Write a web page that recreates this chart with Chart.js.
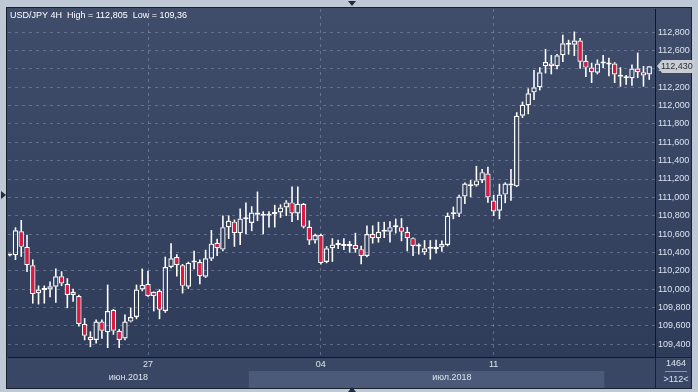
<!DOCTYPE html>
<html>
<head>
<meta charset="utf-8">
<title>USD/JPY 4H</title>
<script src="https://cdn.jsdelivr.net/npm/chart.js@4.4.1/dist/chart.umd.min.js"></script>
<style>
  html, body { margin: 0; padding: 0; background: #bfc9d6; }
  #wrap { position: relative; width: 698px; height: 392px; }
</style>
</head>
<body>
<div id="wrap"><canvas id="chart" width="698" height="392"></canvas></div>
<script>
// 4H candles, oldest first (112 bars on screen)
const opens = [110.365,110.37,110.63,110.46,110.26,109.955,109.99,109.995,110.025,110.14,
  110.055,109.935,109.925,109.62,109.48,109.445,109.645,109.53,109.775,109.545,
  109.46,109.645,109.695,109.995,110.055,109.97,109.98,109.76,110.24,110.35,
  110.26,110.025,110.29,110.295,110.135,110.33,110.505,110.43,110.675,110.735,
  110.61,110.762,110.72,110.835,110.8,110.8,110.815,110.835,110.89,110.945,
  110.825,110.93,110.68,110.53,110.59,110.295,110.445,110.48,110.47,110.47,
  110.48,110.435,110.36,110.6,110.555,110.625,110.625,110.675,110.675,110.625,
  110.555,110.465,110.4,110.44,110.435,110.455,110.48,110.815,110.82,111.01,
  111.14,111.13,111.185,111.26,110.965,110.855,111.03,111.15,111.12,111.89,
  112.005,112.145,112.2,112.43,112.46,112.43,112.55,112.665,112.665,112.71,
  112.49,112.415,112.36,112.46,112.45,112.46,112.33,112.3,112.3,112.405,
  112.365,112.34];
const highs = [110.375,110.67,110.75,110.59,110.32,110.035,110.035,110.08,110.22,110.19,
  110.115,110.0,109.935,109.68,109.535,109.665,109.665,110.045,109.78,109.56,
  109.72,109.795,110.045,110.22,110.195,109.97,109.995,110.35,110.495,110.375,
  110.27,110.295,110.415,110.32,110.425,110.64,110.545,110.8,110.8,110.755,
  110.875,110.94,110.9,111.06,110.845,110.845,110.915,110.92,110.965,111.115,
  111.115,110.935,110.745,110.6,110.6,110.465,110.55,110.535,110.55,110.52,
  110.61,110.47,110.69,110.69,110.73,110.73,110.735,110.765,110.77,110.675,
  110.56,110.495,110.53,110.53,110.535,110.525,110.83,110.895,111.025,111.16,
  111.185,111.34,111.305,111.33,111.025,111.145,111.16,111.305,111.925,112.04,
  112.185,112.385,112.415,112.615,112.55,112.56,112.77,112.715,112.805,112.735,
  112.55,112.465,112.5,112.55,112.52,112.47,112.415,112.33,112.445,112.575,
  112.43,112.43];
const lows = [110.36,110.32,110.355,110.19,109.845,109.835,109.845,109.915,109.855,110.035,
  109.795,109.865,109.595,109.445,109.37,109.41,109.46,109.36,109.505,109.36,
  109.445,109.64,109.675,109.98,109.92,109.76,109.675,109.745,110.23,110.14,
  109.955,110.005,110.22,110.055,110.125,110.31,110.365,110.415,110.55,110.465,
  110.485,110.6,110.635,110.745,110.6,110.675,110.675,110.78,110.8,110.735,
  110.755,110.665,110.485,110.5,110.27,110.285,110.3,110.44,110.43,110.4,
  110.4,110.275,110.35,110.5,110.51,110.56,110.51,110.61,110.525,110.415,
  110.365,110.38,110.375,110.325,110.39,110.41,110.47,110.765,110.79,110.93,
  111.005,111.12,111.16,110.945,110.8,110.765,110.94,110.965,111.115,111.87,
  111.91,112.065,112.17,112.355,112.345,112.4,112.48,112.56,112.545,112.405,
  112.315,112.25,112.345,112.415,112.325,112.25,112.21,112.23,112.22,112.305,
  112.21,112.285];
const closes = [110.37,110.64,110.46,110.26,109.945,109.995,110.0,110.03,110.14,110.06,
  109.935,109.97,109.62,109.49,109.445,109.645,109.545,109.76,109.545,109.445,
  109.645,109.695,109.995,110.045,109.925,109.925,109.775,110.24,110.335,110.26,
  110.035,110.285,110.3,110.14,110.335,110.495,110.445,110.675,110.745,110.61,
  110.77,110.77,110.835,110.81,110.81,110.81,110.84,110.89,110.945,110.825,
  110.93,110.68,110.53,110.59,110.285,110.445,110.485,110.485,110.475,110.48,
  110.435,110.36,110.6,110.555,110.625,110.645,110.675,110.68,110.625,110.555,
  110.47,110.47,110.445,110.445,110.46,110.49,110.8,110.82,111.01,111.15,
  111.12,111.185,111.275,111.0,110.845,111.03,111.15,111.13,111.89,112.01,
  112.135,112.2,112.365,112.475,112.43,112.55,112.68,112.67,112.71,112.48,
  112.415,112.365,112.46,112.465,112.455,112.34,112.315,112.305,112.405,112.365,
  112.33,112.43];

const priceTicks = [109.4,109.6,109.8,110.0,110.2,110.4,110.6,110.8,111.0,111.2,
  111.4,111.6,111.8,112.0,112.2,112.4,112.6,112.8];
const dayTicks = [24, 54, 84];          // bar index where the day starts
const dayLabels = ['27', '04', '11'];
const monthLabels = ['июн.2018', 'июл.2018'];
const monthBounds = [-0.3, 41.5, 112];  // in bar index units
const viewBand = [41.5, 103.2];
const lastPrice = 112.43;
const titleText = 'USD/JPY 4H  High = 112,805  Low = 109,36';
const barsTotal = '1464';
const barsShown = '>112<';

const RED = '#e3173e';
const WHITE = '#ffffff';
const GRID = 'rgba(150,165,195,0.45)';
const TEXT = '#dbe2ef';
const FONT = '"Liberation Sans", Arial, sans-serif';

const idx = opens.map((_, i) => i);
const upperWick = idx.map(i => ({ x: i, y: [Math.max(opens[i], closes[i]), highs[i]] }));
const lowerWick = idx.map(i => ({ x: i, y: [lows[i], Math.min(opens[i], closes[i])] }));
const bodies = idx.map(i => ({ x: i, y: [opens[i], closes[i]] }));
const bodyFill = idx.map(i => closes[i] < opens[i] ? RED : 'rgba(0,0,0,0)');

const fmt = v => v.toFixed(3).replace('.', ',');

const frame = {
  id: 'frame',
  beforeDraw(chart) {
    const ctx = chart.ctx;
    const ca = chart.chartArea;
    const L = ca.left - 1, T = ca.top - 1, R = ca.right + 36, B = ca.bottom + 31;
    ctx.save();
    ctx.fillStyle = '#bfc9d6';
    ctx.fillRect(0, 0, chart.width, chart.height);

    const g = ctx.createLinearGradient(0, ca.top, 0, ca.bottom);
    g.addColorStop(0, '#3f4d6b');
    g.addColorStop(1, '#2f3c59');
    ctx.fillStyle = g;
    ctx.fillRect(L, T, R - L, ca.bottom - T);

    // x label strip
    ctx.fillStyle = '#3a4764';
    ctx.fillRect(L, ca.bottom, R - L, B - ca.bottom);
    const x = chart.scales.x;
    ctx.fillStyle = '#4b5a78';
    const b0 = x.getPixelForValue(viewBand[0]), b1 = x.getPixelForValue(viewBand[1]);
    ctx.fillRect(b0, ca.bottom + 14, b1 - b0, B - ca.bottom - 14);

    ctx.strokeStyle = '#1a202c';
    ctx.lineWidth = 1;
    ctx.strokeRect(L - 0.5, T - 0.5, R - L + 1, B - T + 1);
    ctx.beginPath();
    ctx.moveTo(ca.right + 0.5, ca.bottom);
    ctx.lineTo(ca.right + 0.5, B);
    ctx.moveTo(ca.right, ca.bottom + 0.5);
    ctx.lineTo(R, ca.bottom + 0.5);
    ctx.stroke();
    ctx.restore();
  },
  afterDraw(chart) {
    const ctx = chart.ctx;
    const ca = chart.chartArea;
    const x = chart.scales.x, y = chart.scales.y;
    ctx.save();

    ctx.font = '9px ' + FONT;
    ctx.fillStyle = WHITE;
    ctx.textAlign = 'left';
    ctx.textBaseline = 'alphabetic';
    ctx.fillText(titleText, ca.left + 2, ca.top + 9);

    // day and month labels
    ctx.fillStyle = TEXT;
    ctx.textAlign = 'center';
    ctx.textBaseline = 'middle';
    dayTicks.forEach((d, i) => ctx.fillText(dayLabels[i], x.getPixelForValue(d), ca.bottom + 8));
    monthLabels.forEach((m, i) => {
      const mx = (x.getPixelForValue(monthBounds[i]) + x.getPixelForValue(monthBounds[i + 1])) / 2;
      ctx.fillText(m, mx, ca.bottom + 21);
    });

    // bar count box
    const cx = ca.right + 21;
    ctx.fillText(barsTotal, cx, ca.bottom + 7);
    ctx.fillText(barsShown, cx, ca.bottom + 23);
    ctx.strokeStyle = '#8a97ad';
    ctx.beginPath();
    ctx.moveTo(cx - 11, ca.bottom + 14.5);
    ctx.lineTo(cx + 11, ca.bottom + 14.5);
    ctx.stroke();

    // last price tag
    const py = Math.round(y.getPixelForValue(lastPrice));
    const tx = ca.right + 2;
    ctx.fillStyle = '#c9cdd3';
    ctx.beginPath();
    ctx.moveTo(tx, py);
    ctx.lineTo(tx + 5, py - 6);
    ctx.lineTo(tx + 38, py - 6);
    ctx.lineTo(tx + 38, py + 7);
    ctx.lineTo(tx + 5, py + 7);
    ctx.closePath();
    ctx.fill();
    ctx.fillStyle = '#2a2f38';
    ctx.textAlign = 'left';
    ctx.fillText(fmt(lastPrice), tx + 4, py + 0.5);

    // small scroll arrows on the frame
    ctx.fillStyle = '#1f2b42';
    const mid = chart.width / 2 + 3;
    ctx.beginPath();
    ctx.moveTo(mid - 4, 1); ctx.lineTo(mid + 4, 1); ctx.lineTo(mid, 6); ctx.closePath();
    ctx.moveTo(mid - 4, chart.height); ctx.lineTo(mid + 4, chart.height); ctx.lineTo(mid, chart.height - 5); ctx.closePath();
    ctx.moveTo(1, 191); ctx.lineTo(1, 199); ctx.lineTo(6, 195); ctx.closePath();
    ctx.fill();
    ctx.restore();
  }
};

new Chart(document.getElementById('chart'), {
  type: 'bar',
  data: {
    datasets: [
      { data: upperWick, backgroundColor: WHITE, barThickness: 1, grouped: false, inflateAmount: 0.3 },
      { data: lowerWick, backgroundColor: WHITE, barThickness: 1, grouped: false, inflateAmount: 0.3 },
      { data: bodies, backgroundColor: bodyFill, borderColor: WHITE, borderWidth: 1.2,
        borderSkipped: false, barThickness: 5.4, minBarLength: 2, grouped: false, inflateAmount: 0 }
    ]
  },
  options: {
    responsive: false,
    animation: false,
    devicePixelRatio: 1,
    layout: { padding: { left: 8, top: 9, right: 7, bottom: 4 } },
    plugins: { legend: { display: false }, tooltip: { enabled: false } },
    scales: {
      x: {
        type: 'linear', min: -0.3, max: 112, offset: false,
        afterBuildTicks: s => { s.ticks = dayTicks.map(v => ({ value: v })); },
        afterFit: s => { s.height = 31; },
        ticks: { display: false },
        grid: { color: GRID, drawTicks: false, offset: false },
        border: { color: '#12161d', dash: [3, 4] }
      },
      y: {
        position: 'right', min: 109.259, max: 113.054, beginAtZero: false,
        afterBuildTicks: s => { s.ticks = priceTicks.map(v => ({ value: v })); },
        afterFit: s => { s.width = 36; },
        ticks: { color: TEXT, padding: 3, font: { family: FONT, size: 9 }, callback: v => fmt(v) },
        grid: { color: GRID, drawTicks: false },
        border: { color: '#12161d', dash: [3, 4] }
      }
    }
  },
  plugins: [frame]
});
</script>
</body>
</html>
